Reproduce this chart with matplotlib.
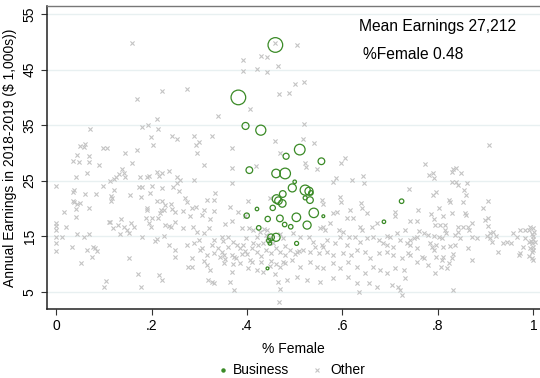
import matplotlib
matplotlib.use("Agg")
import matplotlib.pyplot as plt
from matplotlib.lines import Line2D

plt.rcParams['font.family'] = ['Liberation Sans', 'DejaVu Sans']

# Business majors: share female, annual earnings ($1,000s), marker weight
business_female = [0.4595, 0.382, 0.397, 0.429, 0.5106, 0.482, 0.556, 0.405, 0.461, 0.480,
                   0.500, 0.495, 0.522, 0.530, 0.534, 0.475, 0.462, 0.466, 0.474, 0.522,
                   0.532, 0.454, 0.421, 0.540, 0.3995, 0.560, 0.4435, 0.469, 0.5035, 0.479,
                   0.4917, 0.526, 0.4247, 0.4505, 0.461, 0.446, 0.448, 0.504, 0.443, 0.724,
                   0.687]
business_earn = [49.45, 40.0, 34.86, 34.1, 30.6, 29.4, 28.5, 26.9, 26.3, 26.3,
                 24.8, 23.7, 23.3, 23.1, 22.8, 22.6, 21.7, 21.4, 20.9, 21.9,
                 21.5, 20.1, 19.9, 19.2, 18.7, 18.6, 18.1, 18.2, 18.4, 17.1,
                 16.7, 17.0, 16.5, 14.8, 14.8, 14.2, 13.7, 13.7, 9.2, 21.3,
                 17.6]
business_weight = [53, 53, 12, 25, 28, 9, 11, 11, 18, 28,
                   3, 16, 25, 16, 5, 11, 18, 14, 14, 4,
                   11, 7, 3, 22, 7, 2, 7, 11, 18, 5,
                   5, 16, 5, 11, 16, 5, 3, 4, 2, 5,
                   3]

# All other majors
other_female = [
    0.159, 0.169, 0.223, 0.274, 0.340, 0.406, 0.391, 0.392, 0.420, 0.429, 0.443, 0.442,
    0.212, 0.214, 0.193, 0.181, 0.072,
    0.459, 0.504, 0.464, 0.501, 0.520, 0.468, 0.488, 0.520,
    0.198, 0.243, 0.253, 0.050, 0.061, 0.059, 0.098, 0.107, 0.144, 0.170, 0.203, 0.044,
    0.070, 0.036, 0.049, 0.070, 0.089, 0.159, 0.138, 0.143, 0.065, 0.041, 0.131, 0.126,
    0.121, 0.112, 0.145, 0.175, 0.191, 0.194, 0.212, 0.222, 0.215, 0.237, 0.253, 0.0,
    0.098, 0.036, 0.038, 0.060, 0.084, 0.121, 0.115, 0.117, 0.115, 0.154, 0.173, 0.180,
    0.179, 0.196, 0.201, 0.222, 0.245, 0.253, 0.035, 0.038, 0.044, 0.050, 0.070, 0.041,
    0.017, 0.041, 0.190, 0.190, 0.212, 0.222, 0.229, 0.240, 0.242, 0.250, 0.219, 0.227,
    0.217, 0.213, 0.189, 0.202, 0.194, 0.199, 0.110, 0.114, 0.136, 0.130, 0.119, 0.142,
    0.149, 0.152, 0.156, 0.164, 0.133, 0.229, 0.236, 0.241, 0.249, 0.0, 0.0, 0.0,
    0.021, 0.0, 0.012, 0.044, 0.058, 0.069, 0.0, 0.0, 0.034, 0.065, 0.077, 0.081,
    0.086, 0.075, 0.152, 0.180, 0.207, 0.212, 0.227, 0.236, 0.250, 0.249, 0.052, 0.171,
    0.215, 0.222, 0.105, 0.101, 0.177,
    0.289, 0.326, 0.293, 0.300, 0.295, 0.368, 0.459, 0.469, 0.419, 0.309, 0.368, 0.260,
    0.288, 0.368, 0.258, 0.333, 0.316, 0.330, 0.270, 0.274, 0.403, 0.365, 0.448, 0.267,
    0.293, 0.284, 0.309, 0.330, 0.382, 0.281, 0.305, 0.323, 0.354, 0.368, 0.396, 0.265,
    0.286, 0.295, 0.311, 0.321, 0.347, 0.361, 0.389, 0.404, 0.413, 0.427, 0.436, 0.443,
    0.330, 0.326, 0.305, 0.302, 0.274, 0.316, 0.347, 0.351, 0.344, 0.372, 0.368, 0.378,
    0.389, 0.406, 0.413, 0.424, 0.434, 0.441, 0.455, 0.476, 0.399, 0.392, 0.277, 0.284,
    0.316, 0.323, 0.351, 0.368, 0.385, 0.403, 0.410, 0.420, 0.434, 0.448, 0.459, 0.469,
    0.480, 0.319, 0.326, 0.330, 0.365, 0.466, 0.483, 0.372, 0.467, 0.469,
    0.370, 0.380, 0.385, 0.360, 0.350, 0.395, 0.400, 0.420, 0.430, 0.440, 0.450, 0.460,
    0.470, 0.480, 0.430, 0.450, 0.460, 0.340, 0.330, 0.290, 0.300, 0.285, 0.310, 0.355,
    0.370, 0.410, 0.420, 0.440, 0.450, 0.470, 0.480, 0.490, 0.500, 0.510, 0.495, 0.475,
    0.517, 0.540, 0.522, 0.524, 0.546, 0.598, 0.605, 0.580, 0.587, 0.621, 0.643, 0.645,
    0.739, 0.557, 0.560, 0.595, 0.598, 0.588, 0.581, 0.616, 0.623, 0.638, 0.640, 0.609,
    0.710, 0.710, 0.651, 0.574, 0.560, 0.564, 0.552, 0.592, 0.602, 0.637, 0.640, 0.661,
    0.673, 0.693, 0.699, 0.714, 0.731, 0.497, 0.511, 0.529, 0.539, 0.543, 0.557, 0.560,
    0.567, 0.584, 0.595, 0.609, 0.613, 0.626, 0.637, 0.651, 0.665, 0.676, 0.686, 0.693,
    0.707, 0.721, 0.735, 0.504, 0.518, 0.532, 0.550, 0.567, 0.581, 0.602, 0.619, 0.630,
    0.647, 0.658, 0.676, 0.693, 0.707, 0.724, 0.738, 0.511, 0.532, 0.546, 0.560, 0.581,
    0.595, 0.612, 0.630, 0.647, 0.665, 0.679, 0.693, 0.710, 0.728, 0.504, 0.525, 0.553,
    0.581, 0.612, 0.630, 0.655, 0.672, 0.703, 0.717, 0.721, 0.731, 0.635, 0.724,
    0.907, 0.773, 0.781, 0.789, 0.791, 0.829, 0.832, 0.837, 0.848, 0.829, 0.839, 0.843,
    0.862, 0.855, 0.859, 0.789, 0.796, 0.824, 0.825, 0.852, 0.904, 0.894, 0.759, 0.803,
    0.786, 0.791, 0.810, 0.829, 0.857, 0.859, 0.899, 0.904, 0.906, 0.742, 0.757, 0.794,
    0.804, 0.814, 0.871, 0.843, 0.853, 0.864, 0.866, 0.761, 0.770, 0.780, 0.792, 0.802,
    0.808, 0.815, 0.817, 0.836, 0.843, 0.846, 0.871, 0.881, 0.902, 0.909, 0.916, 0.922,
    0.909, 0.913, 0.958, 0.965, 0.972, 0.983, 0.990, 0.993, 1.002, 0.983, 0.990, 0.997,
    1.000, 0.993, 0.997, 0.979, 0.972, 0.969, 0.997, 1.000, 0.925, 0.944, 0.937, 0.953,
    0.742, 0.749, 0.756, 0.742, 0.756, 0.742, 0.766, 0.770, 0.756, 0.780, 0.794, 0.806,
    0.819, 0.824, 0.829, 0.832, 0.808, 0.811, 0.797, 0.787, 0.791, 0.811, 0.825, 0.836,
    0.864, 0.871, 0.832, 0.797, 0.784,
    1.000, 1.000, 0.998, 1.003, 1.000, 0.995, 1.000, 0.990,
]
other_earn = [
    49.75, 39.7, 41.2, 41.5, 36.7, 38.0, 46.75, 44.8, 45.1, 47.5, 47.2, 44.5,
    36.2, 34.3, 35.0, 34.6, 34.3,
    49.75, 49.45, 45.7, 42.4, 42.85, 40.6, 40.75, 35.2,
    32.8, 33.06, 32.5, 31.26, 31.6, 31.1, 30.8, 30.8, 30.05, 30.5, 31.4, 29.7,
    29.5, 28.55, 28.3, 28.4, 27.8, 28.1, 27.05, 26.45, 26.45, 25.7, 26.2, 25.7,
    25.3, 25.0, 25.7, 25.7, 25.7, 25.9, 26.6, 26.3, 25.9, 26.8, 25.7, 24.05,
    24.1, 22.97, 23.3, 22.55, 22.6, 23.3, 22.3, 21.8, 21.4, 22.4, 23.8, 23.8,
    22.1, 22.7, 24.1, 23.6, 23.9, 24.5, 21.4, 21.1, 20.8, 21.05, 20.0, 19.9,
    19.4, 18.5, 20.0, 19.7, 21.3, 21.4, 20.6, 20.8, 19.97, 19.4, 19.7, 19.7,
    19.1, 18.35, 18.35, 18.35, 17.3, 16.7, 17.5, 17.5, 18.05, 17.1, 16.4, 16.6,
    16.1, 15.6, 17.3, 16.7, 15.4, 17.0, 16.8, 16.7, 17.6, 17.3, 16.84, 16.1,
    16.7, 14.9, 14.9, 15.4, 14.9, 15.4, 13.7, 12.4, 13.1, 12.5, 13.1, 12.8,
    12.4, 11.3, 11.0, 14.9, 14.2, 14.5, 15.0, 13.4, 12.6, 11.2, 10.2, 8.1,
    7.95, 7.1, 7.0, 5.9, 5.8,
    33.06, 33.06, 31.4, 31.9, 30.05, 30.8, 32.2, 30.05, 27.65, 27.8, 27.2, 25.1,
    25.1, 24.5, 23.2, 22.7, 21.5, 21.5, 21.8, 21.2, 21.35, 20.2, 21.8, 19.6,
    20.2, 20.0, 19.7, 19.6, 19.4, 18.6, 18.8, 18.05, 17.2, 17.8, 18.6, 16.4,
    16.7, 15.8, 15.5, 16.4, 14.9, 14.8, 16.4, 16.4, 16.1, 15.8, 16.3, 16.1,
    14.3, 13.4, 12.8, 12.5, 13.4, 11.6, 12.2, 11.6, 11.3, 11.3, 11.6, 11.0,
    11.8, 10.7, 13.7, 13.4, 13.7, 14.6, 13.7, 14.6, 14.6, 13.4, 9.5, 9.4,
    9.8, 8.9, 10.1, 8.6, 10.1, 9.2, 10.4, 8.9, 8.6, 9.6, 8.2, 9.5,
    10.1, 7.1, 6.8, 6.6, 6.8, 6.8, 7.1, 5.3, 3.2, 5.4,
    14.0, 13.5, 12.9, 13.0, 14.2, 12.3, 11.8, 12.1, 11.5, 12.6, 11.9, 12.8,
    12.2, 11.6, 10.3, 10.6, 10.0, 12.9, 11.9, 13.8, 14.4, 11.1, 10.6, 10.9,
    9.9, 12.9, 14.9, 15.2, 14.6, 15.4, 13.3, 12.6, 11.8, 12.4, 10.7, 10.4,
    32.46, 31.7, 28.1, 27.4, 27.05, 28.1, 29.0, 24.8, 25.4, 25.1, 25.9, 24.5,
    23.45, 21.5, 20.8, 22.1, 21.2, 19.4, 19.1, 19.7, 18.2, 20.9, 20.0, 18.2,
    19.4, 18.6, 19.1, 17.4, 16.7, 16.1, 16.4, 16.1, 15.8, 16.7, 16.1, 16.7,
    17.3, 15.0, 14.9, 15.5, 16.1, 15.5, 14.9, 14.9, 14.0, 13.1, 13.4, 13.1,
    14.3, 13.7, 14.9, 13.4, 14.9, 14.9, 14.0, 14.6, 14.9, 14.3, 13.7, 13.4,
    13.1, 14.3, 13.7, 12.2, 12.5, 12.2, 11.9, 12.2, 11.6, 11.9, 11.6, 12.5,
    12.2, 11.0, 11.9, 12.2, 11.6, 11.0, 11.9, 9.5, 10.4, 9.5, 9.2, 10.1,
    9.2, 10.4, 9.5, 8.3, 9.5, 8.9, 8.3, 9.2, 8.9, 7.7, 7.1, 6.8,
    7.4, 7.7, 6.5, 6.5, 5.9, 6.2, 5.9, 5.3, 7.4, 5.0, 4.4,
    31.4, 27.95, 26.0, 26.3, 25.4, 26.6, 27.05, 27.2, 26.45, 24.8, 24.8, 24.2,
    24.65, 23.3, 22.4, 22.4, 23.0, 21.6, 21.2, 21.2, 21.4, 20.1, 19.7, 20.1,
    19.0, 18.05, 18.6, 19.1, 19.1, 18.8, 17.9, 18.2, 16.9, 17.8, 17.8, 17.0,
    17.0, 17.0, 17.4, 16.7, 16.7, 16.6, 16.1, 16.0, 15.5, 15.2, 15.0, 14.9,
    14.6, 16.1, 15.5, 15.2, 15.7, 14.6, 14.9, 14.6, 15.0, 15.5, 15.8, 15.0,
    14.6, 14.0, 15.5, 14.9, 16.1, 16.1, 16.2, 16.7, 15.8, 14.6, 14.0, 13.7,
    13.1, 12.8, 12.2, 13.1, 11.9, 11.6, 11.0, 10.8, 12.2, 14.0, 13.7, 13.8,
    14.3, 14.6, 14.9, 13.4, 12.8, 11.6, 11.3, 11.0, 10.4, 9.8, 8.4, 9.5,
    9.2, 10.2, 11.0, 11.8, 10.8, 11.3, 11.3, 13.1, 12.5, 13.1, 13.2, 13.4,
    12.8, 10.7, 5.3, 13.4, 13.8,
    14.5, 15.0, 15.4, 13.9, 12.6, 14.2, 16.4, 11.5,
]

x_ticks = [0, 0.2, 0.4, 0.6, 0.8, 1.0]
x_tick_labels = ['0', '.2', '.4', '.6', '.8', '1']
y_ticks = [5, 15, 25, 35, 45, 55]

mean_earnings = "27,212"
mean_female = "0.48"

green = '#3a8a26'
grey = '#c4c4c4'

fig = plt.figure(figsize=(5.4, 3.78), dpi=100)
ax = fig.add_axes([0.087, 0.1825, 0.913, 0.8025])

for y in y_ticks:
    ax.axhline(y, color='#e8f0f1', lw=1.0, zorder=0)

ax.scatter(other_female, other_earn, marker='x', s=9, linewidths=0.8,
           color=grey, zorder=2)
ax.scatter(business_female, business_earn, s=[w * 2.1 for w in business_weight],
           facecolors='none', edgecolors=green, linewidths=0.9, zorder=3)

ax.set_xlim(-0.019, 1.014)
ax.set_ylim(1.88, 56.53)

ax.set_xticks(x_ticks)
ax.set_xticklabels(x_tick_labels)
ax.set_yticks(y_ticks)
ax.set_yticklabels([str(v) for v in y_ticks], rotation=90, va='center')
ax.tick_params(axis='both', direction='out', length=4, width=0.8, color='#333333',
               labelsize=10, pad=3.5)

for side in ['left', 'bottom']:
    ax.spines[side].set_color('#222222')
    ax.spines[side].set_linewidth(1.1)
ax.spines['top'].set_color('#777777')
ax.spines['top'].set_linewidth(1.0)
ax.spines['right'].set_visible(False)

ax.set_xlabel('% Female', fontsize=10, labelpad=6)
ax.set_ylabel('Annual Earnings in 2018-2019 ($ 1,000s))', fontsize=10, labelpad=4)

ax.text(0.635, 52.7, f'Mean Earnings {mean_earnings}', fontsize=11.25, va='center', ha='left')
ax.text(0.643, 47.65, f'%Female {mean_female}', fontsize=11.25, va='center', ha='left')

# Legend row below the axis title
legend_y = 1 - 370 / 378
fig.add_artist(Line2D([222.5 / 540], [legend_y], marker='o', ls='none', color=green,
                      markersize=2.2, transform=fig.transFigure))
fig.text(233 / 540, legend_y, 'Business', fontsize=10, va='center', ha='left')
fig.add_artist(Line2D([316.7 / 540], [legend_y], marker='x', ls='none', color=grey,
                      markersize=3, markeredgewidth=0.8, transform=fig.transFigure))
fig.text(330 / 540, legend_y, 'Other', fontsize=10, va='center', ha='left')

fig.savefig('out.png', dpi=100)
